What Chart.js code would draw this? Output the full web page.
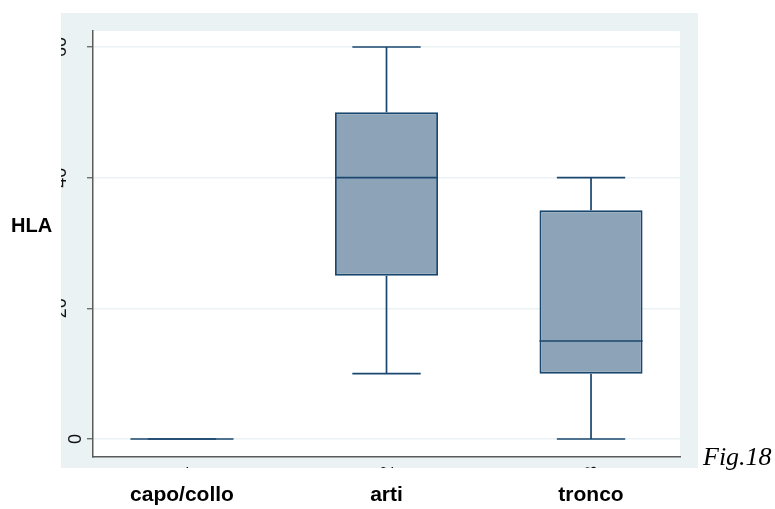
<!DOCTYPE html>
<html><head><meta charset="utf-8">
<style>html,body{margin:0;padding:0;background:#fff;overflow:hidden}canvas{display:block}</style>
<script src="https://cdn.jsdelivr.net/npm/chart.js@4.4.1/dist/chart.umd.min.js"></script>
</head><body>
<canvas id="c" width="775" height="509" style="width:775px;height:509px"></canvas>
<script>
// ---- data ----
const categories = ['capo/collo', 'arti', 'tronco'];
const minVals    = [0, 10, 0];
const q1Vals     = [0, 25, 10];
const medianVals = [0, 40, 15];
const q3Vals     = [0, 50, 35];
const maxVals    = [0, 60, 40];
const yTickLabels = [0, 20, 40, 60];
const xTickLabels = ['1', '2', '3'];
const yTitle = 'HLA';
const figNote = 'Fig.18';

// ---- style ----
const NAVY = 'rgb(26,71,111)';
const BOXFILL = 'rgb(141,164,184)';
const PANEL = 'rgb(234,242,243)';
const AXIS = '#5a5a5a';
const boxHalf = 0.252;
const capHalf = 0.167;

const whiskerPts = [], capPts = [], medianPts = [];
categories.forEach((c, i) => {
  whiskerPts.push({x:i, y:minVals[i]}, {x:i, y:q1Vals[i]}, {x:i, y:null},
                  {x:i, y:q3Vals[i]}, {x:i, y:maxVals[i]}, {x:i, y:null});
  capPts.push({x:i-capHalf, y:minVals[i]}, {x:i+capHalf, y:minVals[i]}, {x:i, y:null},
              {x:i-capHalf, y:maxVals[i]}, {x:i+capHalf, y:maxVals[i]}, {x:i, y:null});
  medianPts.push({x:i-boxHalf, y:medianVals[i]}, {x:i+boxHalf, y:medianVals[i]}, {x:i, y:null});
});
const boxData = categories.map((c, i) => ({x:i, y:[q1Vals[i], q3Vals[i]]}));

const lineDs = (data) => ({
  type: 'line', data, borderColor: NAVY, borderWidth: 1.7, pointRadius: 0,
  spanGaps: false, fill: false, tension: 0, borderCapStyle: 'butt'
});

const decor = {
  id: 'decor',
  beforeDraw(chart) {
    const ctx = chart.ctx, a = chart.chartArea;
    ctx.save();
    ctx.fillStyle = '#fff';
    ctx.fillRect(0, 0, chart.width, chart.height);
    ctx.fillStyle = PANEL;
    ctx.fillRect(61, 13, 637, 455);
    ctx.fillStyle = '#fff';
    ctx.fillRect(a.left, a.top, a.right - a.left, a.bottom - a.top);
    ctx.restore();
  },
  afterDraw(chart) {
    const ctx = chart.ctx, ys = chart.scales.y, xs = chart.scales.x;
    ctx.save();
    ctx.beginPath(); ctx.rect(61, 13, 637, 455); ctx.clip();
    ctx.fillStyle = '#111';
    ctx.font = '18px "Liberation Sans", Arial, sans-serif';
    ctx.textAlign = 'center'; ctx.textBaseline = 'alphabetic';
    yTickLabels.forEach(v => {
      const s = String(v);
      const bx = 81 - 15 * (s.length - 1);
      ctx.save(); ctx.translate(bx, ys.getPixelForValue(v)); ctx.rotate(-Math.PI / 2);
      ctx.fillText(s, 0, 0); ctx.restore();
    });
    xTickLabels.forEach((s, i) => {
      ctx.save(); ctx.translate(xs.getPixelForValue(i) + 6, 476); ctx.rotate(-Math.PI / 2);
      ctx.textAlign = 'left';
      ctx.fillText(s, 0, 0); ctx.restore();
    });
    ctx.restore();

    ctx.save();
    ctx.fillStyle = '#000';
    ctx.font = 'bold 21px "Liberation Sans", Arial, sans-serif';
    ctx.textAlign = 'center'; ctx.textBaseline = 'alphabetic';
    categories.forEach((c, i) => ctx.fillText(c, xs.getPixelForValue(i), 501));
    ctx.font = 'bold 20px "Liberation Sans", Arial, sans-serif';
    ctx.textAlign = 'left';
    ctx.fillText(yTitle, 11, 232);
    ctx.font = 'italic 26px "Liberation Serif", "Times New Roman", serif';
    ctx.fillText(figNote, 703, 465);
    ctx.restore();
  }
};

new Chart(document.getElementById('c'), {
  type: 'bar',
  data: {
    datasets: [
      lineDs(medianPts),
      lineDs(capPts),
      lineDs(whiskerPts),
      {
        type: 'bar', data: boxData, backgroundColor: BOXFILL, borderColor: NAVY,
        borderWidth: 1.9, borderSkipped: false, barPercentage: 2 * boxHalf, categoryPercentage: 1
      }
    ]
  },
  options: {
    responsive: false, animation: false, devicePixelRatio: 1,
    layout: { padding: { left: 0, right: 95, top: 31, bottom: 0 } },
    plugins: { legend: { display: false }, tooltip: { enabled: false } },
    scales: {
      x: {
        type: 'linear', min: -0.435, max: 2.435, offset: false,
        afterBuildTicks(s) { s.ticks = categories.map((c, i) => ({ value: i })); },
        ticks: { display: false }, grid: { display: false, offset: false },
        border: { display: true, color: AXIS, width: 1.5 },
        afterFit(s) { s.height = 52; }
      },
      y: {
        type: 'linear', min: -2.755, max: 62.45,
        afterBuildTicks(s) { s.ticks = yTickLabels.map(v => ({ value: v })); },
        ticks: { display: false },
        grid: { color: PANEL, lineWidth: 1.5, tickLength: 6, tickColor: AXIS, tickWidth: 1.2 },
        border: { display: true, color: AXIS, width: 1.5 },
        afterFit(s) { s.width = 93; }
      }
    }
  },
  plugins: [decor]
});
</script>
</body></html>
